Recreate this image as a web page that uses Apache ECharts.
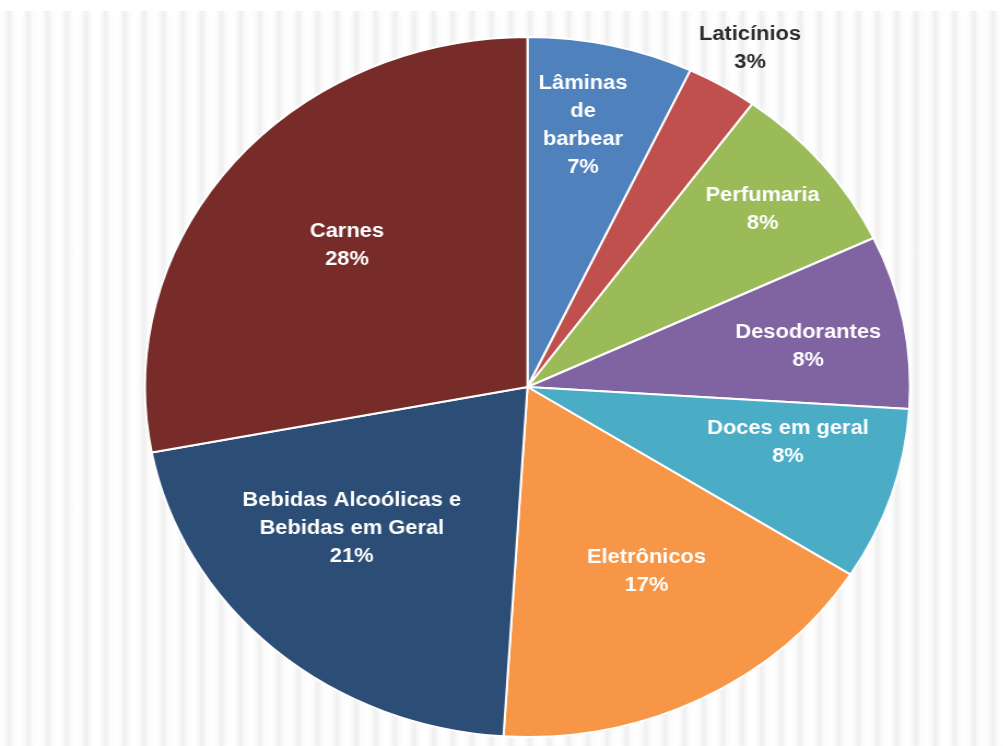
<!DOCTYPE html>
<html>
<head>
<meta charset="utf-8">
<script src="https://cdn.jsdelivr.net/npm/echarts@6/dist/echarts.min.js"></script>
<style>
  html, body { margin: 0; padding: 0; width: 1003px; height: 746px; overflow: hidden; background: #ffffff; }
  #bg {
    position: absolute; left: 0; top: 11px; width: 1003px; height: 735px;
    background: repeating-linear-gradient(90deg, #ffffff 0px, #fcfcfc 4px, #efefef 9px, #fcfcfc 14px, #ffffff 19.3px);
  }
  #chart {
    position: absolute; left: 0; top: 0; width: 918px; height: 746px;
    transform: scaleX(1.093); transform-origin: 0 0;
  }
</style>
</head>
<body>
<div id="bg"></div>
<div id="chart"></div>
<script>
// Data, clockwise from 12 o'clock
var categories = [
  'Lâminas\nde\nbarbear',
  'Laticínios',
  'Perfumaria',
  'Desodorantes',
  'Doces em geral',
  'Eletrônicos',
  'Bebidas Alcoólicas e\nBebidas em Geral',
  'Carnes'
];
var values = [7, 3, 8, 8, 8, 17, 21, 28];

// Styling (kept apart from the data)
var colors = ['#4F81BD', '#C0504D', '#9BBB59', '#8064A2', '#4BACC6', '#F79646', '#2C4D75', '#772C2A'];
var labelColors = ['#ffffff', '#2b2b2b', '#ffffff', '#ffffff', '#ffffff', '#ffffff', '#ffffff', '#ffffff'];
var labelOffsets = [[12, -88], [113, -185], [78, -64], [82, -7], [69, 0], [28, 26], [-43, 8], [-28, -28]];

var chart = echarts.init(document.getElementById('chart'), null, { renderer: 'canvas' });
var seriesData = categories.map(function (name, i) {
  return {
    name: name,
    value: values[i],
    itemStyle: { color: colors[i] },
    label: { color: labelColors[i] }
  };
});

chart.setOption({
  animation: false,
  series: [{
    type: 'pie',
    center: [482.6, 387],
    radius: [0, 350],
    startAngle: 90,
    clockwise: true,
    avoidLabelOverlap: false,
    data: seriesData,
    itemStyle: { borderColor: '#ffffff', borderWidth: 2 },
    label: {
      show: true,
      position: 'inside',
      formatter: '{b}\n{c}%',
      fontFamily: 'Liberation Sans, Arial, sans-serif',
      fontWeight: 'bold',
      fontSize: 20,
      lineHeight: 28,
      align: 'center'
    },
    labelLine: { show: false },
    labelLayout: function (params) {
      var o = labelOffsets[params.dataIndex];
      return { dx: o[0], dy: o[1] };
    }
  }]
});
</script>
</body>
</html>
